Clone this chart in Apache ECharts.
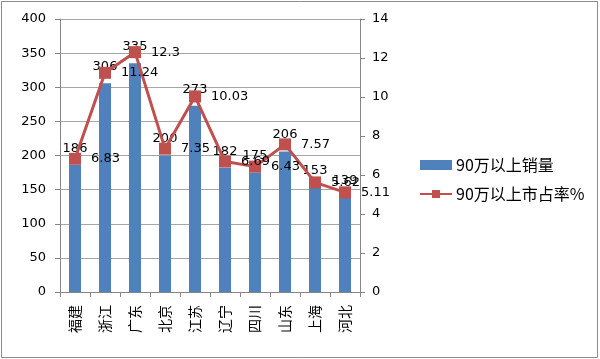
<!DOCTYPE html>
<html><head><meta charset="utf-8">
<script src="https://cdn.jsdelivr.net/npm/echarts@6/dist/echarts.min.js"></script>
<style>html,body{margin:0;padding:0;background:#fff}#c{width:600px;height:359px}</style>
</head><body><div id="c"></div>
<script>
const categories = ['福建','浙江','广东','北京','江苏','辽宁','四川','山东','上海','河北'];
const salesName = '90万以上销量';
const shareName = '90万以上市占率%';
const salesValues = [186,306,335,200,273,182,175,206,153,139];
const shareValues = [6.83,11.24,12.3,7.35,10.03,6.69,6.43,7.57,5.62,5.11];
const leftTicks = {min:0,max:400,interval:50};
const rightTicks = {min:0,max:14,interval:2};

const numFont = 'DejaVu Sans, "Noto Sans CJK SC", sans-serif';
const cjkFont = '"Noto Sans CJK SC", sans-serif';
const chart = echarts.init(document.getElementById('c'));
chart.setOption({
  animation:false,
  backgroundColor:'#fff',
  graphic:[{type:'rect',shape:{x:1.5,y:1.5,width:596,height:356},style:{fill:'none',stroke:'#8c8c8c',lineWidth:1},silent:true}],
  grid:{left:60,right:240,top:19,bottom:67},
  legend:{
    orient:'vertical',left:414,top:152,itemGap:13,itemWidth:32,itemHeight:10,
    textStyle:{fontFamily:cjkFont,fontSize:16,color:'#000',padding:[0,0,0,-1]},
    data:[{name:salesName,icon:'rect'},{name:shareName}]
  },
  xAxis:{
    type:'category',data:categories,
    axisLine:{lineStyle:{color:'#868686'}},
    axisTick:{show:true,alignWithLabel:false,length:5,lineStyle:{color:'#868686'}},
    axisLabel:{fontFamily:cjkFont,fontSize:14,color:'#000',margin:13,interval:0,rotate:90}
  },
  yAxis:[
    {type:'value',min:leftTicks.min,max:leftTicks.max,interval:leftTicks.interval,position:'left',
     axisLine:{show:true,lineStyle:{color:'#868686'}},axisTick:{show:true,length:5,lineStyle:{color:'#868686'}},
     splitLine:{lineStyle:{color:'#a6a6a6'}},
     axisLabel:{fontFamily:numFont,fontSize:13,color:'#000',margin:14}},
    {type:'value',min:rightTicks.min,max:rightTicks.max,interval:rightTicks.interval,position:'right',
     axisLine:{show:true,lineStyle:{color:'#868686'}},axisTick:{show:true,length:5,lineStyle:{color:'#868686'}},
     splitLine:{show:false},
     axisLabel:{fontFamily:numFont,fontSize:13,color:'#000',margin:12}}
  ],
  series:[
    {name:salesName,type:'bar',data:salesValues,barWidth:12,yAxisIndex:0,
     itemStyle:{color:'#4F81BD'},
     label:{show:true,position:'top',distance:10,fontFamily:numFont,fontSize:13,color:'#000'}},
    {name:shareName,type:'line',data:shareValues,yAxisIndex:1,
     symbol:'rect',symbolSize:12,
     lineStyle:{color:'#C0504D',width:3},itemStyle:{color:'#C0504D'},
     label:{show:true,position:'right',distance:10,fontFamily:numFont,fontSize:13,color:'#000'}}
  ]
});
</script></body></html>
